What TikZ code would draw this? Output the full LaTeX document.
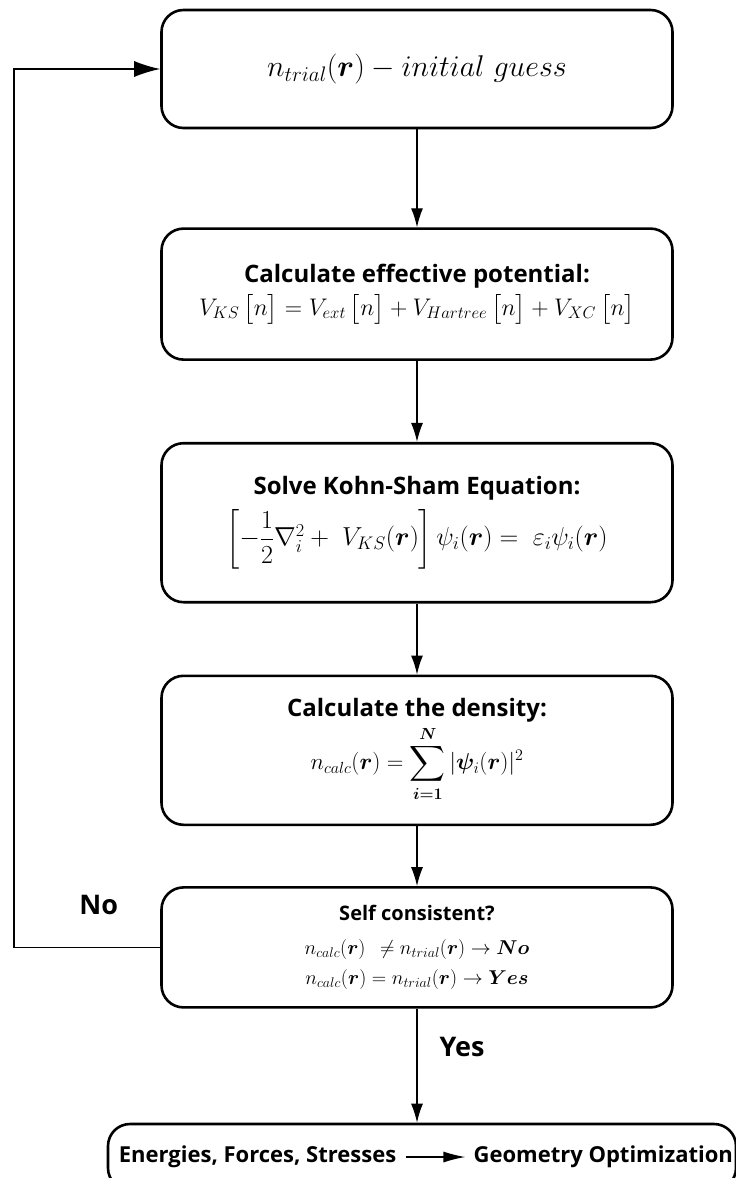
\RequirePackage{fix-cm}
\documentclass[tikz,border=0pt]{standalone}
\usepackage{fontspec}
\setsansfont{Open Sans}
\usepackage{amsmath}
\usepackage{bm}
\usetikzlibrary{arrows.meta,positioning}
\newcommand{\br}{\bm{r}}
\newcommand{\head}[1]{{\sffamily\bfseries\fontsize{24}{29}\selectfont #1}}
\newcommand{\eqsize}[1]{\fontsize{#1}{#1}\selectfont}
\tikzset{
  proc/.style={draw, line width=2.6pt, rounded corners=22pt, minimum width=511pt, align=center, inner sep=0pt},
  flow/.style={-{Latex[length=19pt,width=12pt]}, line width=1.3pt},
  lbl/.style={font=\sffamily\bfseries\fontsize{27}{32}\selectfont, inner sep=0pt},
  outtxt/.style={font=\sffamily\bfseries\fontsize{22}{26}\selectfont, inner sep=0pt},
}

\begin{document}
\begin{tikzpicture}[x=1pt,y=1pt]
\useasboundingbox (0,0) rectangle (736,-1178);
% nodes
 \node[proc, minimum height=118pt, font=\eqsize{30}] (init) at (417,-69) {$n_{trial}(\br) - initial\ guess$};
 \node[proc, minimum height=131pt, below=98pt of init] (pot) {\head{Calculate effective potential:}\\[5pt]%
   \eqsize{24}$V_{KS}\,\bigl[n\bigr] = V_{ext}\,\bigl[n\bigr] + V_{Hartree}\,\bigl[n\bigr] + V_{XC}\,\bigl[n\bigr]$};
 \node[proc, minimum height=159pt, below=81pt of pot] (ks) {\head{Solve Kohn-Sham Equation:}\\[8pt]%
   \eqsize{26}$\left[-\dfrac{1}{2}\nabla_i^2 +\; V_{KS}(\br)\right]\psi_i(\br) =\; \varepsilon_i\psi_i(\br)$};
 \node[proc, minimum height=149pt, below=71pt of ks] (dens) {\head{Calculate the density:}\\[2pt]%
   \eqsize{23}$\displaystyle n_{calc}(\br) = \sum_{\bm{i=1}}^{\bm{N}}|\bm{\psi}_i(\br)|^2$};
 \node[proc, minimum height=120pt, below=60pt of dens] (check) {\sffamily\bfseries\fontsize{20}{24}\selectfont Self consistent?\\[18pt]%
   \normalfont\eqsize{20}$n_{calc}(\br)\;\, \neq n_{trial}(\br) \to \bm{No}$\\[9pt]%
   \eqsize{20}$n_{calc}(\br) = n_{trial}(\br) \to \bm{Yes}$};
 \node[proc, minimum width=628pt, minimum height=66pt, below=114pt of check, xshift=5pt] (out) {};
 \node[outtxt, anchor=west] (ene) at ([xshift=12pt]out.west) {Energies, Forces, Stresses};
 \node[outtxt, right=77pt of ene] (geo) {Geometry Optimization};
 \coordinate (loop) at (14,0);

% edges
 \draw[flow] (init) -- (pot);
 \draw[flow] (pot) -- (ks);
 \draw[flow] (ks) -- (dens);
 \draw[flow] (dens) -- (check);
 \draw[flow] (check.south) -- node[lbl, pos=0.34, right=22pt] {Yes} (check.south |- out.north);
 \draw[flow, -{Latex[length=26pt,width=16pt]}] (check.west) -- node[lbl, pos=0.42, above=32pt] {No} (check.west -| loop) |- (init.west);
 \draw[flow, -{Latex[length=22pt,width=11pt]}, shorten <=10pt, shorten >=8pt] (ene) -- (geo);

\end{tikzpicture}
\end{document}
